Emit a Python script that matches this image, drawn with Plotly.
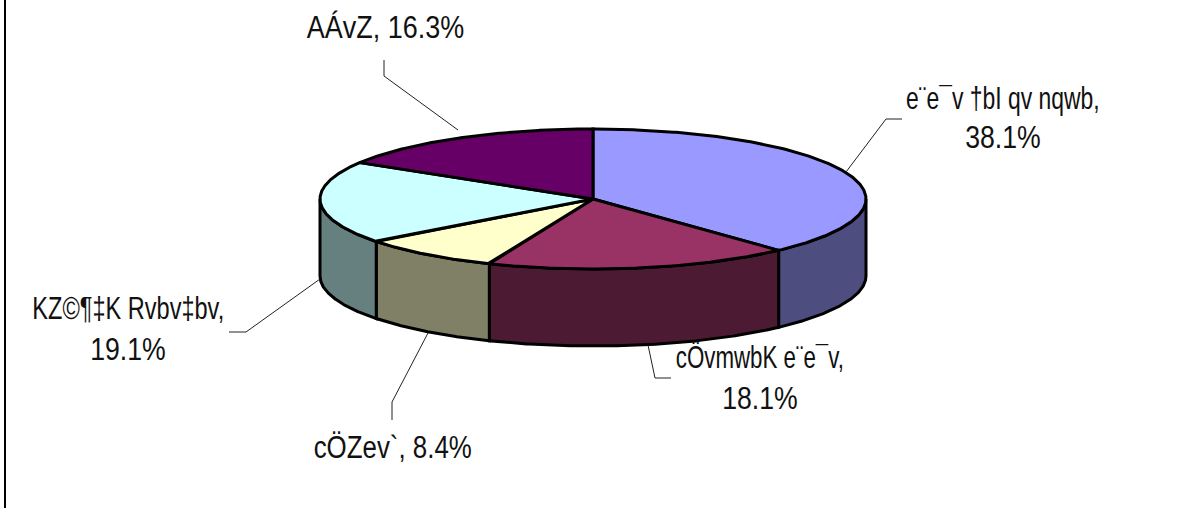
import json
import numpy as np
import plotly.graph_objects as go

# --- data ---
categories = ["e¨e¯v †bI qv nqwb", "cÖvmwbK e¨e¯v", "cÖZev`", "KZ©¶‡K Rvbv‡bv", "AÁvZ"]
shares = [38.1, 18.1, 8.4, 19.1, 16.3]
top_colors = ["#9999FF", "#993366", "#FFFFCC", "#CCFFFF", "#660066"]
side_colors = ["#4D4D80", "#4D1A33", "#808066", "#668080", "#330033"]

# --- layout constants (pixels) ---
W, H = 1181, 508
CX, CY, RX, RY, DEPTH = 593, 199, 273, 70, 77
FONT = "Liberation Sans"
FONT_SIZE = 31
# (centre x, name-line y, percent-line y or None when one line, name scale)
label_pos = [
    (1003, 98, 137, 0.74),
    (760, 357, 398, 0.72),
    (393, 447, None, 0.835),
    (128, 308, 349, 0.76),
    (385, 27, None, 0.87),
]
PCT_SCALE = 0.86
leaders = [
    ([902, 886, 846], [119, 119, 172]),
    ([648, 655, 671], [345, 378, 378]),
    ([392, 392, 428], [420, 402, 333]),
    ([229, 246, 320], [332, 332, 279]),
    ([384, 384, 458], [60, 76, 130]),
]

fractions = np.cumsum([0] + shares) / sum(shares)
fig = go.Figure()


def ex(t):
    return CX + RX * np.sin(t)


def ey(t):
    return CY - RY * np.cos(t)


# side walls (front half of the rim only)
for i in range(len(shares)):
    a = max(fractions[i] * 2 * np.pi, np.pi / 2)
    b = min(fractions[i + 1] * 2 * np.pi, 3 * np.pi / 2)
    if b <= a:
        continue
    t = np.linspace(a, b, 120)
    xs = np.concatenate([ex(t), ex(t[::-1])])
    ys = np.concatenate([ey(t), ey(t[::-1]) + DEPTH])
    fig.add_trace(go.Scatter(x=np.append(xs, xs[0]), y=np.append(ys, ys[0]), mode="lines",
                             fill="toself", fillcolor=side_colors[i],
                             line=dict(color="black", width=3), hoverinfo="skip"))

# top faces
for i, name in enumerate(categories):
    t = np.linspace(fractions[i] * 2 * np.pi, fractions[i + 1] * 2 * np.pi, 240)
    xs = np.concatenate([[CX], ex(t), [CX]])
    ys = np.concatenate([[CY], ey(t), [CY]])
    fig.add_trace(go.Scatter(x=xs, y=ys, mode="lines", fill="toself", fillcolor=top_colors[i],
                             line=dict(color="black", width=3), name=name, hoverinfo="name"))

# leader lines
for lx, ly in leaders:
    fig.add_trace(go.Scatter(x=lx, y=ly, mode="lines", line=dict(color="#222222", width=1),
                             hoverinfo="skip"))

# labels (one annotation per line so each can be narrowed separately)
annotations = []
scales = []


def add_label(text, x, y, scale):
    annotations.append(dict(x=x, y=y, text=text, showarrow=False, xref="x", yref="y",
                            xanchor="center", yanchor="middle", align="center",
                            font=dict(family=FONT, size=FONT_SIZE, color="#111111")))
    scales.append(scale)


for name, share, (x, y1, y2, sc) in zip(categories, shares, label_pos):
    if y2 is None:
        add_label(f"{name}, {share:.1f}%", x, y1, sc)
    else:
        add_label(f"{name},", x, y1, sc)
        add_label(f"{share:.1f}%", x, y2, PCT_SCALE)

fig.update_layout(
    width=W, height=H, autosize=False, showlegend=False,
    margin=dict(l=0, r=0, t=0, b=0),
    paper_bgcolor="white", plot_bgcolor="white",
    xaxis=dict(range=[0, W], visible=False, fixedrange=True),
    yaxis=dict(range=[H, 0], visible=False, fixedrange=True),
    annotations=annotations,
    shapes=[dict(type="line", xref="x", yref="y", x0=5, x1=5, y0=0, y1=H,
                 line=dict(color="black", width=2))],
)

post = """
document.documentElement.style.margin = '0';
document.body.style.margin = '0';
document.body.style.overflow = 'hidden';
var scales = %s;
document.querySelectorAll('.annotation-text').forEach(function (el, i) {
  el.style.transformBox = 'fill-box';
  el.style.transformOrigin = 'center';
  el.style.transform = 'scaleX(' + scales[i] + ')';
});
""" % json.dumps(scales)
fig.write_html("out.html", post_script=post, config={"displayModeBar": False})
